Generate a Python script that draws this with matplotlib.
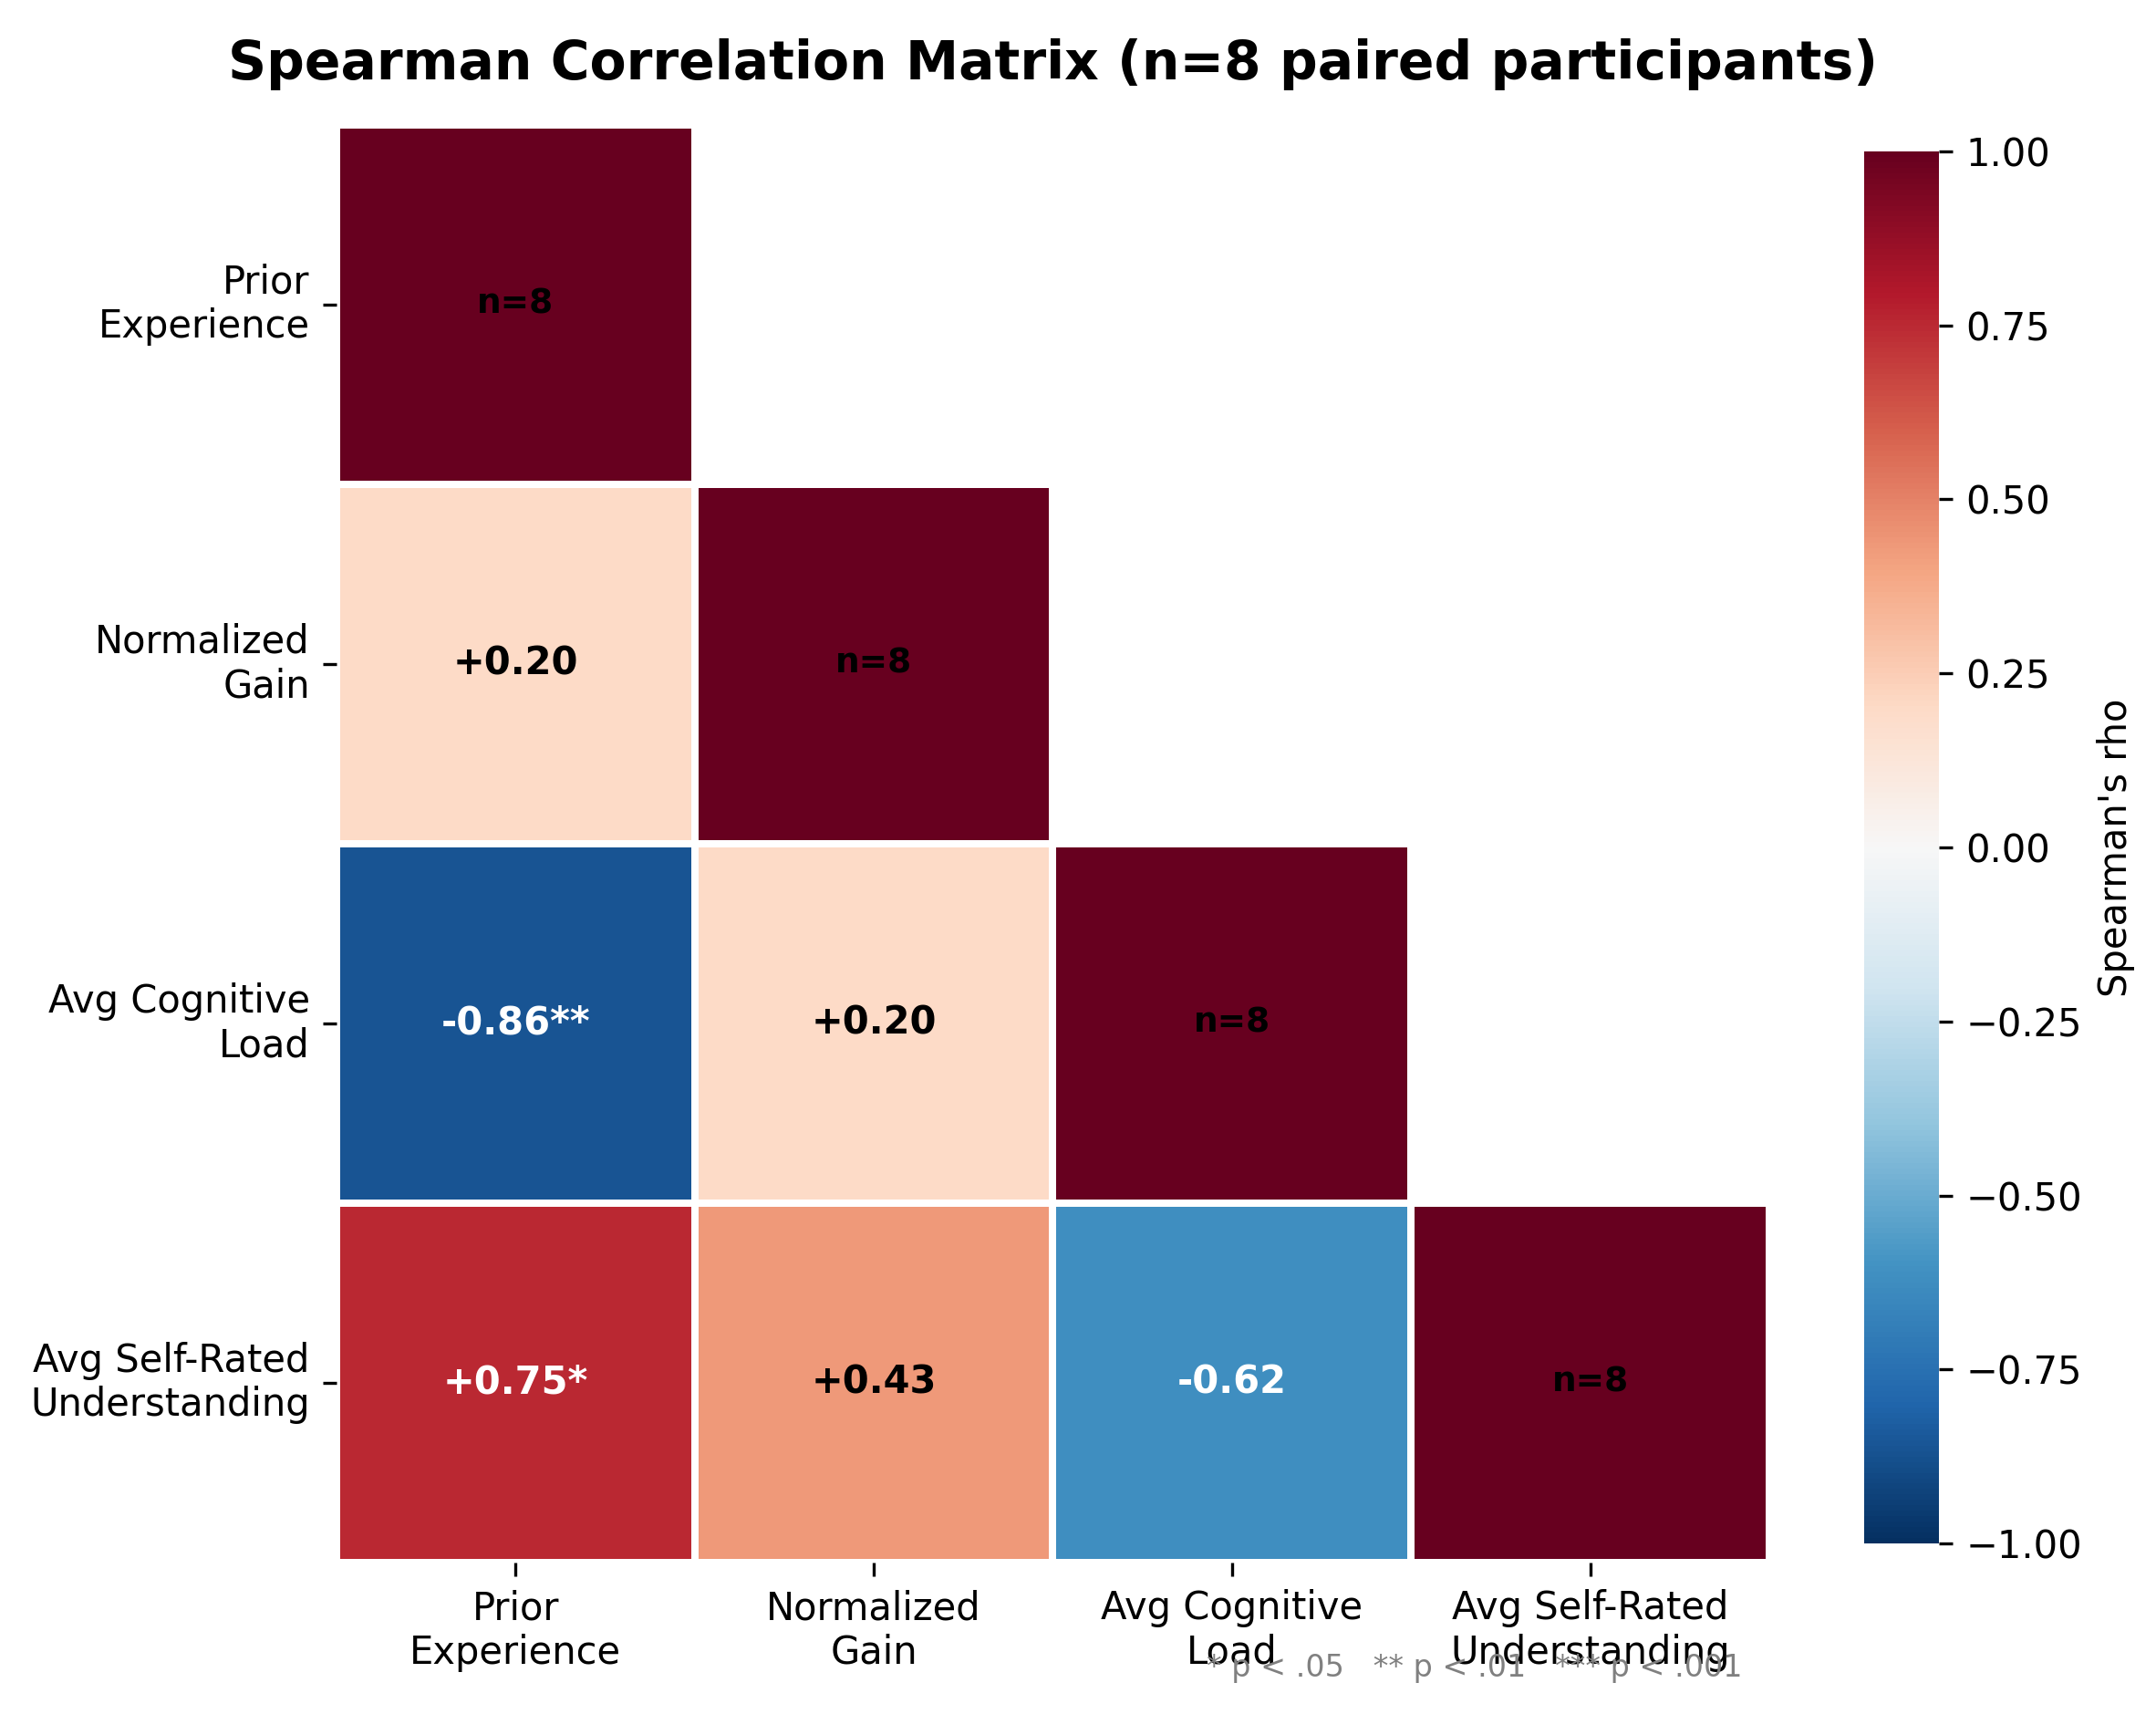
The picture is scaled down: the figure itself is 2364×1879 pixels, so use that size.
import numpy as np
import matplotlib
matplotlib.use("Agg")
import matplotlib.pyplot as plt
import seaborn as sns

# variables and correlation values (lower triangle)
labels = ["Prior\nExperience", "Normalized\nGain", "Avg Cognitive\nLoad", "Avg Self-Rated\nUnderstanding"]
row_gain = [0.20]
row_load = [-0.86, 0.20]
row_self = [0.75, 0.43, -0.62]
stars_gain = [""]
stars_load = ["**", ""]
stars_self = ["*", "", ""]
n_pairs = 8

rho = np.eye(4)
rho[1, :1] = row_gain
rho[2, :2] = row_load
rho[3, :3] = row_self
rho = rho + np.tril(rho, -1).T
stars = {1: stars_gain, 2: stars_load, 3: stars_self}

mask = np.triu(np.ones_like(rho, dtype=bool), k=1)

DPI = 300
fig = plt.figure(figsize=(2364 / DPI, 1879 / DPI), dpi=DPI)
ax = fig.add_axes([0.1561, 0.0884, 0.6645, 0.8387])
cax = fig.add_axes([0.8646, 0.0995, 0.0347, 0.8122])

sns.heatmap(rho, mask=mask, cmap="RdBu_r", vmin=-1, vmax=1, ax=ax, cbar_ax=cax,
            linewidths=1.5, linecolor="white",
            xticklabels=labels, yticklabels=labels,
            cbar_kws={"label": "Spearman's rho", "ticks": np.arange(-1, 1.01, 0.25)})

# annotations
for i in range(4):
    for j in range(i + 1):
        if i == j:
            ax.text(j + 0.5, i + 0.5, f"n={n_pairs}", ha="center", va="center",
                    fontsize=9, fontweight="bold", color="black")
        else:
            v = rho[i, j]
            col = "white" if abs(v) > 0.5 else "black"
            ax.text(j + 0.5, i + 0.5, f"{v:+.2f}{stars[i][j]}", ha="center", va="center",
                    fontsize=10, fontweight="bold", color=col)

ax.set_xticklabels(labels, rotation=0, fontsize=10)
ax.set_yticklabels(labels, rotation=0, fontsize=10)
cax.tick_params(labelsize=10)
cax.yaxis.label.set_size(10)

ax.set_title("Spearman Correlation Matrix (n=8 paired participants)",
             fontsize=14, fontweight="bold", pad=12)

fig.text(0.684, 0.027, "* p < .05   ** p < .01   *** p < .001",
         ha="center", va="center", fontsize=8, color="grey")

plt.savefig("out.png", dpi=DPI)
